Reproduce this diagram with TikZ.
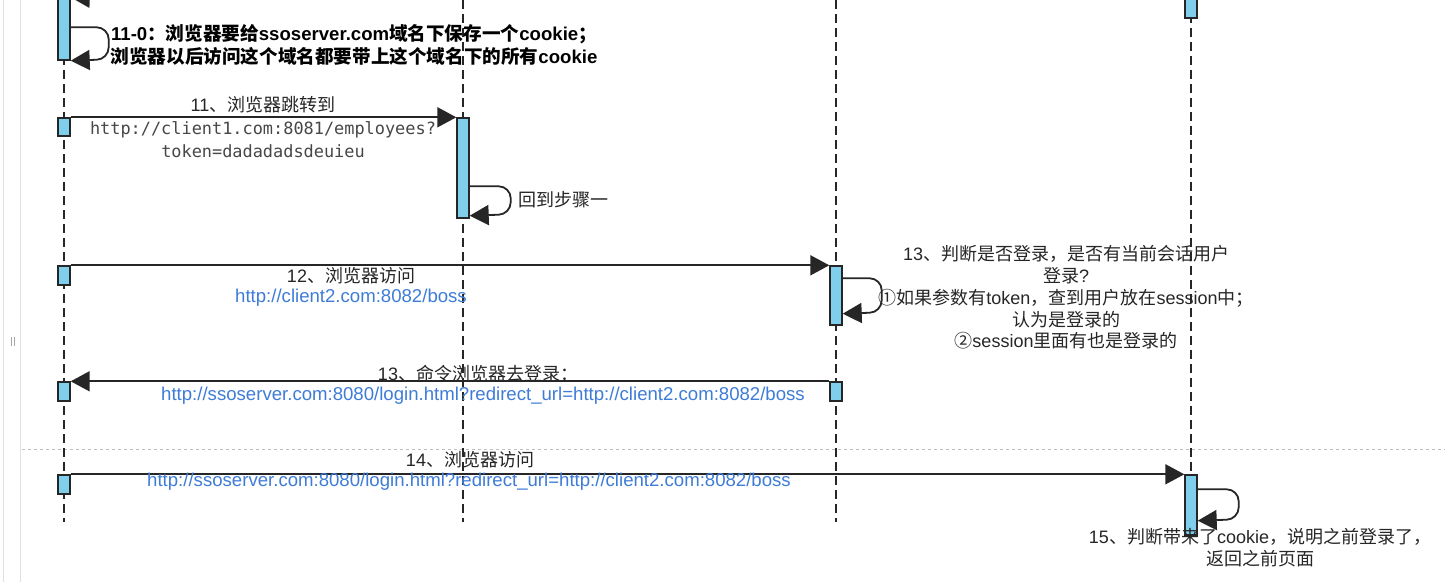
\documentclass[tikz,border=0pt]{standalone}
\usepackage{fontspec}
\setmainfont{Liberation Sans}
\newfontfamily\cjk{Noto Sans CJK SC}
\newfontfamily\monof{DejaVu Sans Mono}
\usetikzlibrary{arrows.meta}
\newcommand\zh[1]{{\cjk #1}}
\definecolor{actblue}{RGB}{126,206,236}
\definecolor{urlblue}{RGB}{62,124,216}
\definecolor{ink}{RGB}{38,38,38}
\begin{document}
\begin{tikzpicture}[x=1pt,y=-1pt,
  lifeline/.style={draw=ink, line width=1.5pt, dash pattern=on 9pt off 5pt},
  act/.style={draw=ink, line width=1.4pt, fill=actblue, inner sep=0pt, minimum width=12pt},
  msg/.style={draw=ink, line width=1.8pt, -{Triangle[length=19pt,width=20pt]}},
  loopmsg/.style={msg, rounded corners=12pt},
  lbl/.style={font=\fontsize{18}{21.7}\selectfont, text=ink, inner sep=0pt, align=center},
  boldlbl/.style={font=\bfseries\fontsize{18.6}{23}\selectfont, text=black, inner sep=0pt, align=center},
  url/.style={font=\fontsize{18.6}{21.7}\selectfont, text=urlblue, inner sep=0pt, align=center},
  mono/.style={font=\monof\fontsize{16.9}{23}\selectfont, text=black!72, inner sep=0pt, align=center},
  uiline/.style={draw=black!12, line width=1pt},
]
\useasboundingbox (0,0) rectangle (1445,582);
\clip (0,0) rectangle (1445,582);
\fill[white] (0,0) rectangle (1445,582);

% editor UI edges
\draw[uiline] (3,0) -- (3,582);
\draw[uiline] (20,0) -- (20,582);
\draw[draw=black!35, line width=0.8pt] (11,337) -- (11,346) (14,337) -- (14,346);
\draw[draw=black!25, line width=1pt, dash pattern=on 3pt off 3pt] (22,449) -- (1445,449);

% lifelines
\coordinate (L1t) at (64,0);   \coordinate (L1b) at (64,522);
\coordinate (L2t) at (463,0);  \coordinate (L2b) at (463,522);
\coordinate (L3t) at (836,0);  \coordinate (L3b) at (836,522);
\coordinate (L4t) at (1191,0); \coordinate (L4b) at (1191,475);
\draw[lifeline] (L1t) -- (L1b);
\draw[lifeline] (L2t) -- (L2b);
\draw[lifeline] (L3t) -- (L3b);
\draw[lifeline] (L4t) -- (L4b);

% activations
\node[act, minimum height=65pt] (a0) at (64,27.5) {};
\node[act, minimum height=18pt] (a1) at (64,127) {};
\node[act, minimum height=19pt] (a2) at (64,275.5) {};
\node[act, minimum height=19pt] (a3) at (64,391.5) {};
\node[act, minimum height=19pt] (a4) at (64,484.5) {};
\node[act, minimum height=100pt] (b1) at (463,168) {};
\node[act, minimum height=59pt] (c1) at (836,295.5) {};
\node[act, minimum height=19pt] (c2) at (836,391.5) {};
\node[act, minimum height=22pt] (d0) at (1191,7) {};
\node[act, minimum height=60pt] (d1) at (1191,505) {};

% messages
\coordinate (prevloop) at (100,-2);
\draw[msg] (prevloop) -- ([yshift=-3pt]a0.north east);
\draw[loopmsg] ([yshift=-33pt]a0.north east) -- ++(38,0) -- ++(0,32) -- (a0.south east);
\draw[msg] (a1.north east) -- (b1.north west);
\draw[loopmsg] ([yshift=-69pt]b1.north east) -- ++(41,0) -- ++(0,28) -- ([yshift=3pt]b1.south east);
\draw[msg] (a2.north east) -- (c1.north west);
\draw[loopmsg] ([yshift=-13pt]c1.north east) -- ++(39,0) -- ++(0,34) -- ([yshift=12pt]c1.south east);
\draw[msg] (c2.north west) -- (a3.north east);
\draw[msg] (a4.north east) -- (d1.north west);
\draw[loopmsg] ([yshift=-15pt]d1.north east) -- ++(41,0) -- ++(0,30) -- ([yshift=15pt]d1.south east);

% labels
\node[boldlbl] (t110) at (354,44.5) {11-0\zh{：浏览器要给}ssoserver.com\zh{域名下保存一个}cookie\zh{；}\\\zh{浏览器以后访问这个域名都要带上这个域名下的所有}cookie};
\node[lbl] (t11) at (263,105) {11\zh{、浏览器跳转到}};
\node[mono] (t11u) at (263,139.5) {http://client1.com:8081/employees?\\token=dadadadsdeuieu};
\node[lbl, anchor=west] (tback) at (518,200) {\zh{回到步骤一}};
\node[lbl] (t12) at (351,276) {12\zh{、浏览器访问}};
\node[url] (t12u) at (351,298) {http://client2.com:8082/boss};
\node[lbl] (t13j) at (1066,297.5) {13\zh{、判断是否登录，是否有当前会话用户}\\\zh{登录}?\\\zh{①如果参数有}token\zh{，查到用户放在}session\zh{中；}\\\zh{认为是登录的}\\\zh{②}session\zh{里面有也是登录的}};
\node[lbl] (t13) at (478,374) {13\zh{、命令浏览器去登录：}};
\node[url] (t13u) at (483,396) {http://ssoserver.com:8080/login.html?redirect\_url=http://client2.com:8082/boss};
\node[lbl] (t14) at (470,460) {14\zh{、浏览器访问}};
\node[url] (t14u) at (469,482) {http://ssoserver.com:8080/login.html?redirect\_url=http://client2.com:8082/boss};
\node[lbl] (t15) at (1260,547.5) {15\zh{、判断带来了}cookie\zh{，说明之前登录了，}\\\zh{返回之前页面}};
\end{tikzpicture}
\end{document}
